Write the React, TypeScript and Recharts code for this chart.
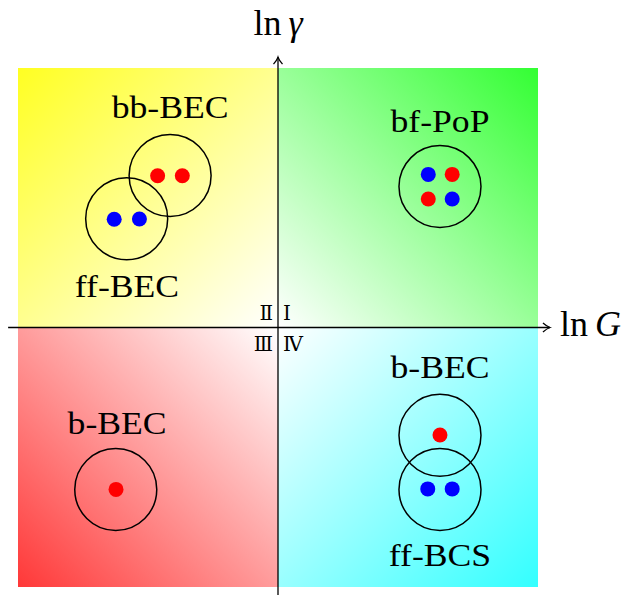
import React from 'react';
import { ScatterChart, Scatter, XAxis, YAxis, ReferenceArea, ReferenceLine, ReferenceDot } from 'recharts';

// phase diagram: x = ln G, y = ln gamma, both scaled to [-1, 1]
const quadrants = [
  { id: 'q1', x1: 0, x2: 1, y1: 0, y2: 1 },
  { id: 'q2', x1: -1, x2: 0, y1: 0, y2: 1 },
  { id: 'q3', x1: -1, x2: 0, y1: -1, y2: 0 },
  { id: 'q4', x1: 0, x2: 1, y1: -1, y2: 0 },
];

const rings = [
  { x: -0.415, y: 0.586 },
  { x: -0.582, y: 0.419 },
  { x: 0.623, y: 0.543 },
  { x: 0.623, y: -0.415 },
  { x: 0.623, y: -0.624 },
  { x: -0.624, y: -0.624 },
];

const redDots = [
  { x: -0.463, y: 0.585 },
  { x: -0.368, y: 0.585 },
  { x: 0.67, y: 0.59 },
  { x: 0.578, y: 0.495 },
  { x: 0.623, y: -0.414 },
  { x: -0.623, y: -0.624 },
];

const blueDots = [
  { x: -0.63, y: 0.417 },
  { x: -0.533, y: 0.418 },
  { x: 0.578, y: 0.59 },
  { x: 0.67, y: 0.495 },
  { x: 0.576, y: -0.622 },
  { x: 0.67, y: -0.622 },
];

const stateLabels = [
  { x: -0.415, y: 0.807, text: 'bb-BEC' },
  { x: -0.581, y: 0.118, text: 'ff-BEC' },
  { x: 0.623, y: 0.753, text: 'bf-PoP' },
  { x: 0.623, y: -0.195, text: 'b-BEC' },
  { x: -0.619, y: -0.41, text: 'b-BEC' },
  { x: 0.623, y: -0.919, text: 'ff-BCS' },
];

const quadrantNames = ['Ⅰ', 'Ⅱ', 'Ⅲ', 'Ⅳ'];

const serif = "'Liberation Serif', 'DejaVu Serif', serif";

const AxisArrow = (p: any) => {
  const { x1, y1, x2, y2 } = p;
  const horiz = Math.abs(x2 - x1) > Math.abs(y2 - y1);
  const d = horiz
    ? `M${x2 - 7},${y2 - 4.5} Q${x2 - 3},${y2 - 1} ${x2},${y2} Q${x2 - 3},${y2 + 1} ${x2 - 7},${y2 + 4.5}`
    : `M${x2 - 4.5},${y2 + 7} Q${x2 - 1},${y2 + 3} ${x2},${y2} Q${x2 + 1},${y2 + 3} ${x2 + 4.5},${y2 + 7}`;
  return (
    <g>
      <line x1={x1} y1={y1} x2={x2} y2={y2} stroke="#000" strokeWidth={1.3} />
      <path d={d} fill="none" stroke="#000" strokeWidth={1.3} />
    </g>
  );
};

const Ring = (p: any) => <circle cx={p.cx} cy={p.cy} r={41} fill="none" stroke="#000" strokeWidth={1.5} />;
const RedDot = (p: any) => <circle cx={p.cx} cy={p.cy} r={7.5} fill="#ff0000" />;
const BlueDot = (p: any) => <circle cx={p.cx} cy={p.cy} r={7.5} fill="#0000ff" />;

const StateText = (text: string) => (p: any) => (
  <text
    transform={`translate(${p.cx},${p.cy}) scale(1.15,1)`}
    x={0}
    y={0}
    textAnchor="middle"
    style={{ fontFamily: serif, fontSize: 31 }}
    fill="#000"
  >
    {text}
  </text>
);

const QuadrantNames = (p: any) => (
  <g style={{ fontFamily: serif, fontSize: 20 }} fill="#000">
    <text x={p.cx + 5} y={p.cy - 8} textAnchor="start">{quadrantNames[0]}</text>
    <text x={p.cx - 5} y={p.cy - 8} textAnchor="end">{quadrantNames[1]}</text>
    <text x={p.cx - 5} y={p.cy + 23} textAnchor="end">{quadrantNames[2]}</text>
    <text x={p.cx + 5} y={p.cy + 23} textAnchor="start">{quadrantNames[3]}</text>
  </g>
);

const GammaLabel = (p: any) => (
  <text x={p.cx} y={p.cy} textAnchor="middle" style={{ fontFamily: serif, fontSize: 36 }} fill="#000">
    ln<tspan dx={7} fontStyle="italic">γ</tspan>
  </text>
);

const GLabel = (p: any) => (
  <text x={p.cx} y={p.cy} textAnchor="start" style={{ fontFamily: serif, fontSize: 36 }} fill="#000">
    ln<tspan dx={7} fontStyle="italic">G</tspan>
  </text>
);

export default function App() {
  return (
    <div style={{ position: 'absolute', left: 0, top: 0 }}>
      <ScatterChart width={631} height={595} margin={{ top: 68, right: 93, bottom: 8, left: 18 }}>
        <defs>
          <linearGradient id="q1" x1="1" y1="0" x2="0" y2="1">
            <stop offset="0%" stopColor="#33ff33" />
            <stop offset="100%" stopColor="#ffffff" />
          </linearGradient>
          <linearGradient id="q2" x1="0" y1="0" x2="1" y2="1">
            <stop offset="0%" stopColor="#ffff22" />
            <stop offset="100%" stopColor="#ffffff" />
          </linearGradient>
          <linearGradient id="q3" x1="0" y1="1" x2="1" y2="0">
            <stop offset="0%" stopColor="#ff3838" />
            <stop offset="100%" stopColor="#ffffff" />
          </linearGradient>
          <linearGradient id="q4" x1="1" y1="1" x2="0" y2="0">
            <stop offset="0%" stopColor="#33ffff" />
            <stop offset="100%" stopColor="#ffffff" />
          </linearGradient>
        </defs>
        <XAxis type="number" dataKey="x" domain={[-1, 1]} allowDataOverflow hide />
        <YAxis type="number" dataKey="y" domain={[-1, 1]} allowDataOverflow hide />
        {quadrants.map((q) => (
          <ReferenceArea
            key={q.id}
            x1={q.x1}
            x2={q.x2}
            y1={q.y1}
            y2={q.y2}
            fill={`url(#${q.id})`}
            fillOpacity={1}
            stroke="none"
            ifOverflow="visible"
          />
        ))}
        <ReferenceLine
          segment={[{ x: -1.038, y: 0 }, { x: 1.046, y: 0 }]}
          ifOverflow="visible"
          shape={AxisArrow}
        />
        <ReferenceLine
          segment={[{ x: 0, y: -1.031 }, { x: 0, y: 1.042 }]}
          ifOverflow="visible"
          shape={AxisArrow}
        />
        <Scatter data={rings} shape={Ring} isAnimationActive={false} />
        <Scatter data={redDots} shape={RedDot} isAnimationActive={false} />
        <Scatter data={blueDots} shape={BlueDot} isAnimationActive={false} />
        {stateLabels.map((l, i) => (
          <ReferenceDot key={i} x={l.x} y={l.y} ifOverflow="visible" shape={StateText(l.text)} />
        ))}
        <ReferenceDot x={0} y={0} ifOverflow="visible" shape={QuadrantNames} />
        <ReferenceDot x={0} y={1.127} ifOverflow="visible" shape={GammaLabel} />
        <ReferenceDot x={1.085} y={-0.033} ifOverflow="visible" shape={GLabel} />
      </ScatterChart>
    </div>
  );
}
